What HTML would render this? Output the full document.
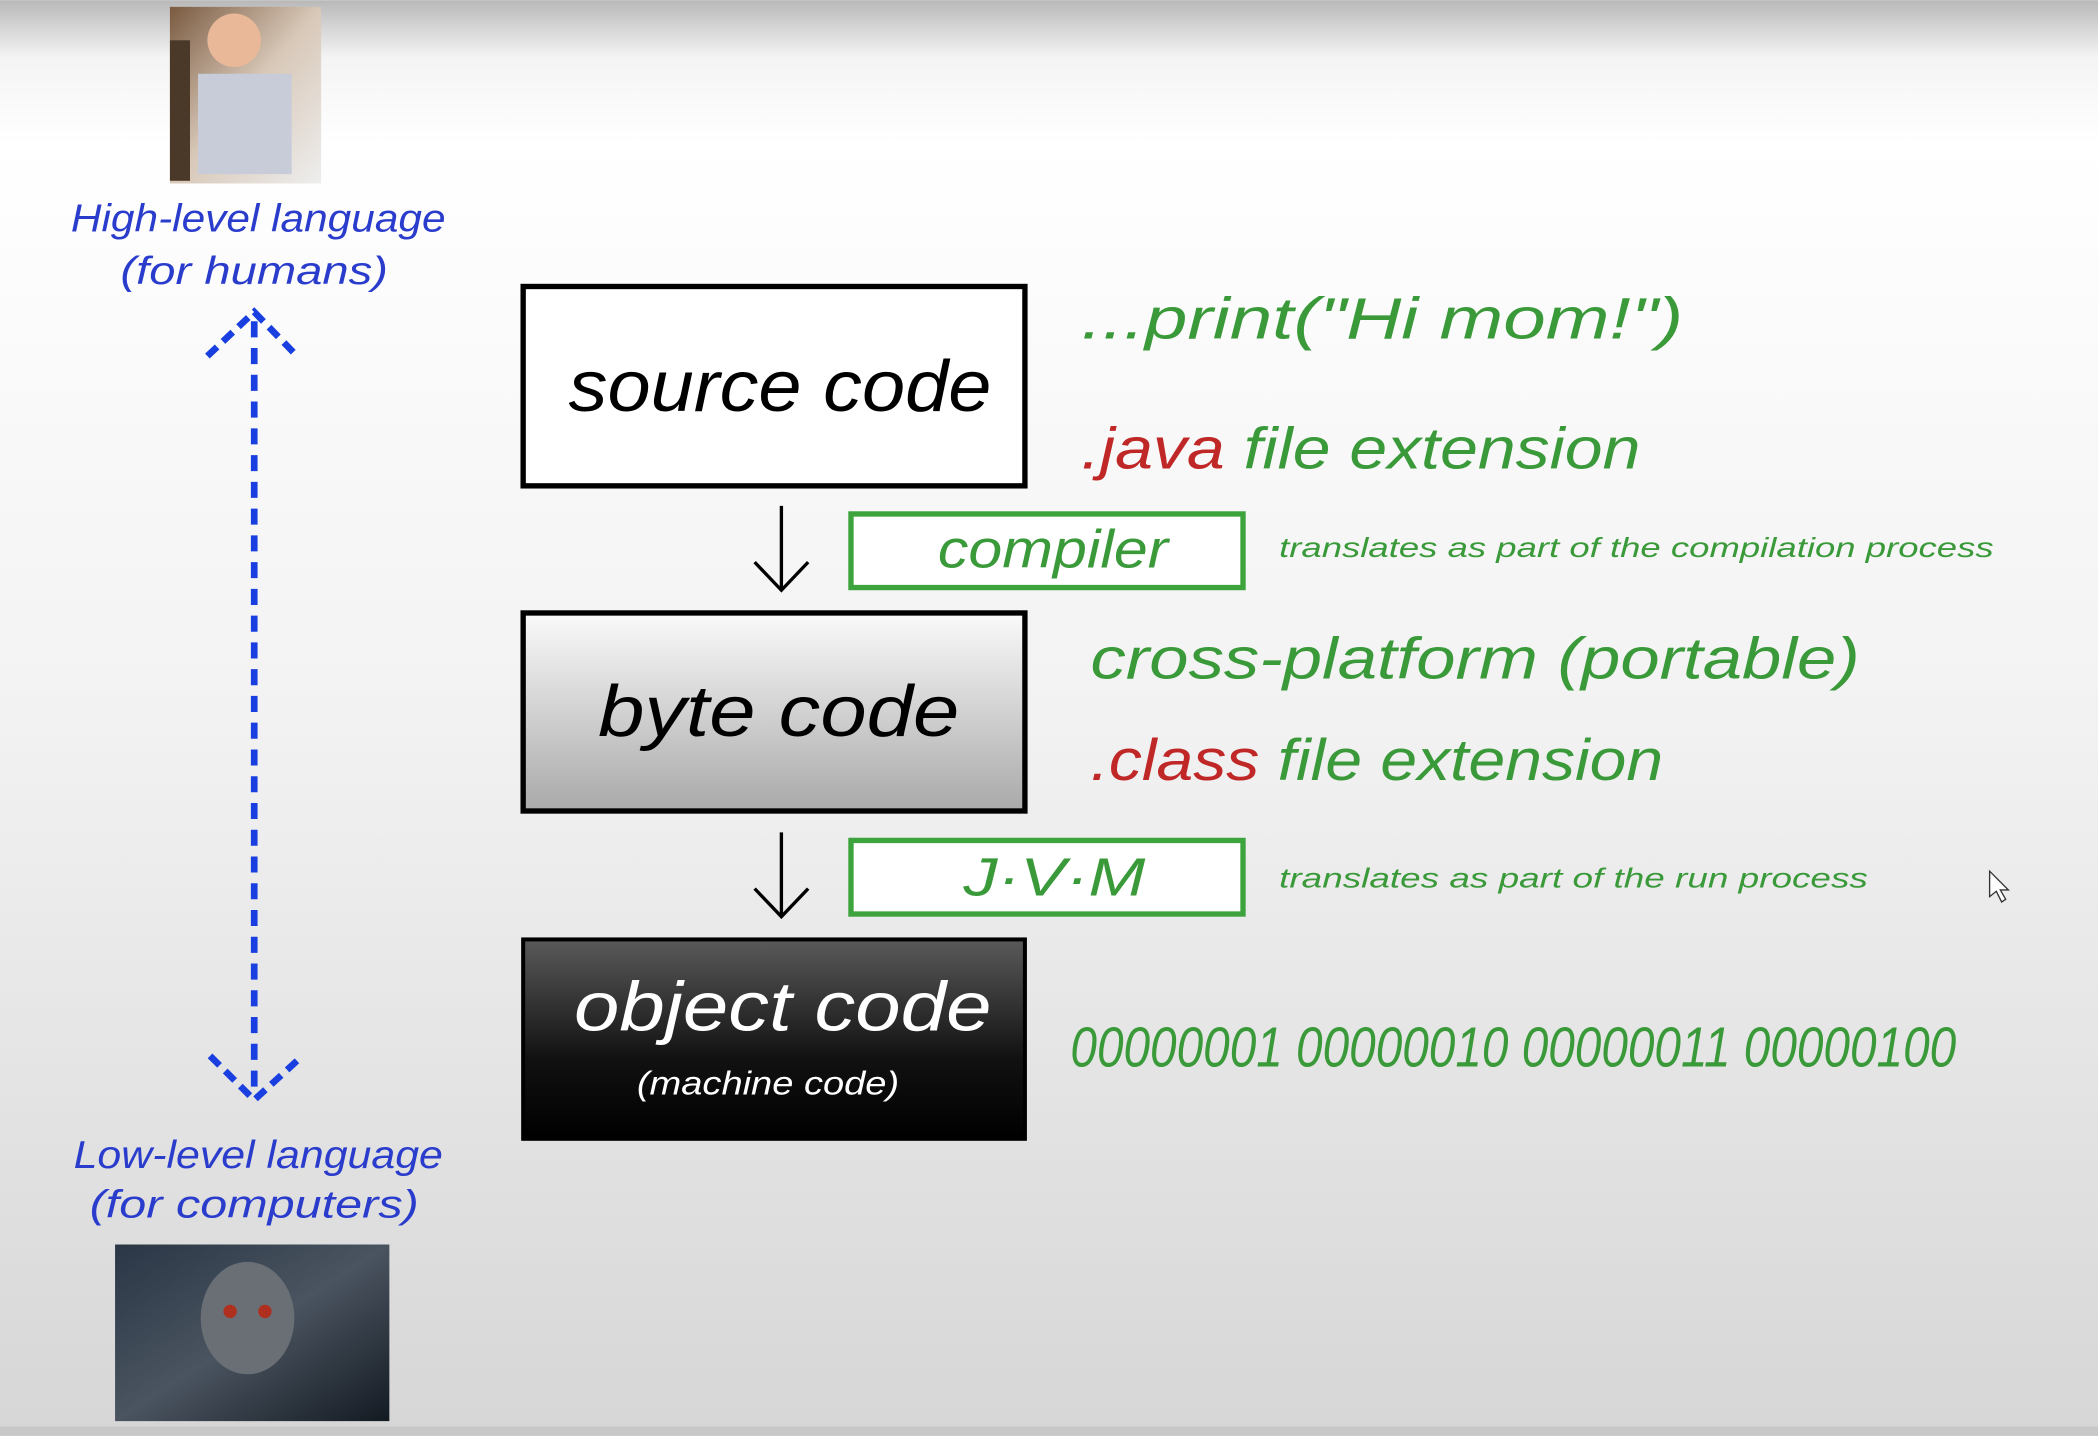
<!DOCTYPE html>
<html><head><meta charset="utf-8"><style>
html,body{margin:0;padding:0;width:2098px;height:1436px;overflow:hidden}
svg{display:block}
text{font-family:"Liberation Sans","DejaVu Sans",sans-serif;font-style:italic}
</style></head><body>
<svg width="2098" height="1436" viewBox="0 0 1568 1073" xmlns="http://www.w3.org/2000/svg">
<defs>
<linearGradient id="bg" x1="0" y1="0" x2="0" y2="1">
<stop offset="0" stop-color="#b8b8b8"/><stop offset="0.04" stop-color="#f4f4f4"/><stop offset="0.1" stop-color="#ffffff"/>
<stop offset="0.5" stop-color="#f2f2f2"/><stop offset="1" stop-color="#d6d6d6"/></linearGradient>
<linearGradient id="bc" x1="0" y1="0" x2="0" y2="1"><stop offset="0" stop-color="#fafafa"/><stop offset="1" stop-color="#a9a9a9"/></linearGradient>
<linearGradient id="oc" x1="0" y1="0" x2="0" y2="1"><stop offset="0" stop-color="#5a5a5a"/><stop offset="0.6" stop-color="#111"/><stop offset="1" stop-color="#000"/></linearGradient>
<linearGradient id="kid" x1="0" y1="0" x2="1" y2="1"><stop offset="0" stop-color="#7a5a40"/><stop offset="0.5" stop-color="#d8c8b8"/><stop offset="1" stop-color="#eeeeee"/></linearGradient>
<linearGradient id="term" x1="0" y1="0" x2="1" y2="1"><stop offset="0" stop-color="#2a3646"/><stop offset="0.5" stop-color="#4a5460"/><stop offset="1" stop-color="#141a22"/></linearGradient>
</defs>
<rect width="1568" height="1073" fill="url(#bg)"/>
<!-- kid -->
<rect x="127" y="5" width="113" height="132" fill="url(#kid)"/>
<rect x="127" y="30" width="15" height="105" fill="#4a3828"/>
<circle cx="175" cy="30" r="20" fill="#e8b898"/>
<rect x="148" y="55" width="70" height="75" fill="#c8ccd8"/>
<!-- terminator -->
<rect x="86" y="930" width="205" height="132" fill="url(#term)"/>
<ellipse cx="185" cy="985" rx="35" ry="42" fill="#6a6f76"/>
<circle cx="172" cy="980" r="5" fill="#b03020"/><circle cx="198" cy="980" r="5" fill="#b03020"/>
<!-- left labels -->
<g fill="#2a3ccc" font-size="29">
<text x="193" y="173" text-anchor="middle" textLength="280" lengthAdjust="spacingAndGlyphs">High-level language</text>
<text x="190" y="212" text-anchor="middle" textLength="200" lengthAdjust="spacingAndGlyphs">(for humans)</text>
<text x="193" y="873" text-anchor="middle" textLength="276" lengthAdjust="spacingAndGlyphs">Low-level language</text>
<text x="190" y="910" text-anchor="middle" textLength="246" lengthAdjust="spacingAndGlyphs">(for computers)</text>
</g>
<g stroke="#1a3fe0" stroke-width="5" fill="none" stroke-dasharray="12,8">
<line x1="190" y1="240" x2="190" y2="818"/>
<polyline points="155,266 190,233 222,266" stroke-dasharray="10,6"/>
<polyline points="157,789 190,822 226,789" stroke-dasharray="10,6"/>
</g>
<!-- boxes -->
<rect x="391" y="214" width="375" height="149" fill="#fff" stroke="#000" stroke-width="4"/>
<text x="583" y="307" text-anchor="middle" font-size="54" textLength="316" lengthAdjust="spacingAndGlyphs" fill="#000">source code</text>
<rect x="391" y="458" width="375" height="148" fill="url(#bc)" stroke="#000" stroke-width="4"/>
<text x="582" y="550" text-anchor="middle" font-size="54" textLength="270" lengthAdjust="spacingAndGlyphs" fill="#000">byte code</text>
<rect x="391" y="702" width="375" height="149" fill="url(#oc)" stroke="#000" stroke-width="3"/>
<text x="585" y="770" text-anchor="middle" font-size="52" textLength="312" lengthAdjust="spacingAndGlyphs" fill="#fff">object code</text>
<text x="574" y="818" text-anchor="middle" font-size="25" textLength="196" lengthAdjust="spacingAndGlyphs" fill="#fff">(machine code)</text>
<!-- arrows -->
<g stroke="#000" stroke-width="2.5" fill="none">
<line x1="584" y1="378" x2="584" y2="440"/><polyline points="564,420 584,441 604,420"/>
<line x1="584" y1="622" x2="584" y2="684"/><polyline points="564,664 584,685 604,664"/>
</g>
<rect x="636" y="384" width="293" height="55" fill="#fff" stroke="#3da33d" stroke-width="4"/>
<text x="787" y="424" text-anchor="middle" font-size="40" textLength="172" lengthAdjust="spacingAndGlyphs" fill="#3a9a3a">compiler</text>
<rect x="636" y="628" width="293" height="55" fill="#fff" stroke="#3da33d" stroke-width="4"/>
<text x="788" y="669" text-anchor="middle" font-size="40" textLength="136" lengthAdjust="spacingAndGlyphs" fill="#3a9a3a">J·V·M</text>
<!-- right texts -->
<g fill="#3a9a3a">
<text x="808" y="253" font-size="44" textLength="450" lengthAdjust="spacingAndGlyphs">...print("Hi mom!")</text>
<text x="956" y="416" font-size="21" textLength="534" lengthAdjust="spacingAndGlyphs">translates as part of the compilation process</text>
<text x="815" y="507" font-size="44" textLength="575" lengthAdjust="spacingAndGlyphs">cross-platform (portable)</text>
<text x="956" y="663" font-size="21" textLength="440" lengthAdjust="spacingAndGlyphs">translates as part of the run process</text>
<text x="800" y="797" font-size="42" textLength="662" lengthAdjust="spacingAndGlyphs">00000001 00000010 00000011 00000100</text>
</g>
<text x="808" y="350" font-size="44" textLength="418" lengthAdjust="spacingAndGlyphs" fill="#3a9a3a"><tspan fill="#c02828">.java</tspan> file extension</text>
<text x="815" y="583" font-size="44" textLength="428" lengthAdjust="spacingAndGlyphs" fill="#3a9a3a"><tspan fill="#c02828">.class</tspan> file extension</text>
<!-- cursor -->
<polygon points="1487,651 1487,670 1492,666 1496,674 1499,672 1495,665 1501,665" fill="#fff" stroke="#333" stroke-width="1"/>
<rect x="0" y="1066" width="1568" height="7" fill="#c8c8c8"/>
</svg>
</body></html>
